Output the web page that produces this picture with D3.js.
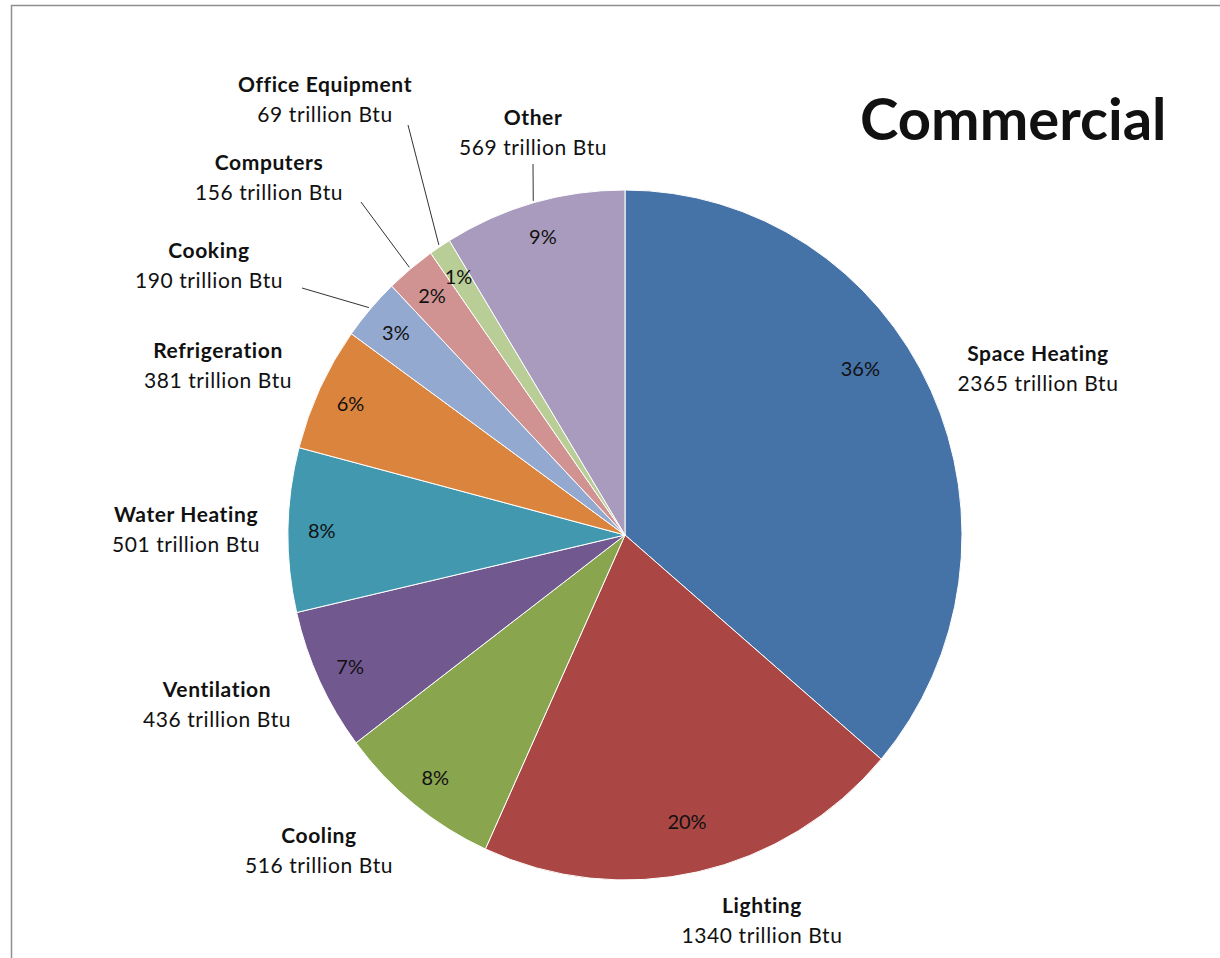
<!DOCTYPE html>
<html>
<head>
<meta charset="utf-8">
<script src="https://cdn.jsdelivr.net/npm/d3@7"></script>
<style>
  html, body { margin: 0; padding: 0; background: #fff; }
  svg { display: block; }
  text { font-family: Lato, "Open Sans", "Liberation Sans", sans-serif; fill: #111; }
</style>
</head>
<body>
<svg id="chart" width="1220" height="958"></svg>
<script>
// Commercial end-use energy consumption, trillion Btu
const categories = ["Space Heating", "Lighting", "Cooling", "Ventilation", "Water Heating",
                    "Refrigeration", "Cooking", "Computers", "Office Equipment", "Other"];
const values = [2365, 1340, 516, 436, 501, 381, 190, 156, 69, 569];
const shareLabels = ["36%", "20%", "8%", "7%", "8%", "6%", "3%", "2%", "1%", "9%"];
const colors = ["#4572A7", "#AA4643", "#89A54E", "#71588F", "#4198AF",
                "#DB843D", "#93A9CF", "#D19392", "#B9CD96", "#A99BBD"];

// Placement of the outside category labels (centre x, baseline of first line)
const labelAnchors = {
  "Space Heating":    [1038, 361],
  "Lighting":         [762, 913],
  "Cooling":          [319, 843],
  "Ventilation":      [217, 697],
  "Water Heating":    [186, 522],
  "Refrigeration":    [218, 358],
  "Cooking":          [209, 258],
  "Computers":        [269, 170],
  "Office Equipment": [325, 92],
  "Other":            [533, 125]
};
// Start points of leader lines near their labels
const leaderStarts = {
  "Cooking":          [302, 288],
  "Computers":        [361, 202],
  "Office Equipment": [408, 125],
  "Other":            [533, 164]
};

const svg = d3.select("#chart");
const cx = 625, cy = 535, r = 337, yStretch = 345 / 337;

// Frame
svg.append("rect")
  .attr("x", 11.5).attr("y", 5.5)
  .attr("width", 1300).attr("height", 1100)
  .attr("fill", "none").attr("stroke", "#8f8f8f").attr("stroke-width", 1.5);

const data = categories.map((c, i) => ({ name: c, value: values[i], share: shareLabels[i], color: colors[i] }));

const pie = d3.pie().value(d => d.value).sort(null);
const arcs = pie(data);
const arc = d3.arc().innerRadius(0).outerRadius(r);

const g = svg.append("g").attr("transform", `translate(${cx},${cy}) scale(1,${yStretch})`);

g.selectAll("path.slice")
  .data(arcs)
  .join("path")
  .attr("class", "slice")
  .attr("d", arc)
  .attr("fill", d => d.data.color)
  .attr("stroke", "#fff")
  .attr("stroke-width", 1)
  .attr("vector-effect", "non-scaling-stroke");

// Convert a (angle, radius) on the pie to page coordinates
function polar(angle, rad) {
  return [cx + rad * Math.sin(angle), cy - rad * Math.cos(angle) * yStretch];
}

// Percentage labels inside slices
const angleNudge = { "Space Heating": -10 * Math.PI / 180 };
const radFrac = { "Space Heating": 0.85, "Lighting": 0.85 };
svg.selectAll("text.pct")
  .data(arcs)
  .join("text")
  .attr("class", "pct")
  .each(function(d) {
    const mid = (d.startAngle + d.endAngle) / 2 + (angleNudge[d.data.name] || 0);
    const [x, y] = polar(mid, r * (radFrac[d.data.name] || 0.9));
    d3.select(this).attr("x", x).attr("y", y);
  })
  .attr("text-anchor", "middle")
  .attr("dominant-baseline", "central")
  .attr("font-size", 20)
  .text(d => d.data.share);

// Leader lines from labels to slice edges
svg.selectAll("line.leader")
  .data(arcs.filter(d => leaderStarts[d.data.name]))
  .join("line")
  .attr("class", "leader")
  .each(function(d) {
    const mid = (d.startAngle + d.endAngle) / 2;
    const [x2, y2] = polar(mid, r + 2);
    const [x1, y1] = leaderStarts[d.data.name];
    d3.select(this).attr("x1", x1).attr("y1", y1).attr("x2", x2).attr("y2", y2);
  })
  .attr("stroke", "#333")
  .attr("stroke-width", 1);

// Category labels: name and value
const lab = svg.selectAll("g.cat")
  .data(data)
  .join("g")
  .attr("class", "cat")
  .attr("transform", d => `translate(${labelAnchors[d.name][0]},${labelAnchors[d.name][1]})`);

lab.append("text")
  .attr("text-anchor", "middle")
  .attr("font-size", 21)
  .attr("letter-spacing", 0.6)
  .attr("font-weight", "bold")
  .text(d => d.name);

lab.append("text")
  .attr("text-anchor", "middle")
  .attr("y", 30)
  .attr("font-size", 21)
  .attr("letter-spacing", 0.6)
  .text(d => `${d.value} trillion Btu`);

// Title
svg.append("text")
  .attr("x", 860).attr("y", 140)
  .attr("font-size", 58)
  .attr("font-weight", "bold")
  .text("Commercial");
</script>
</body>
</html>
